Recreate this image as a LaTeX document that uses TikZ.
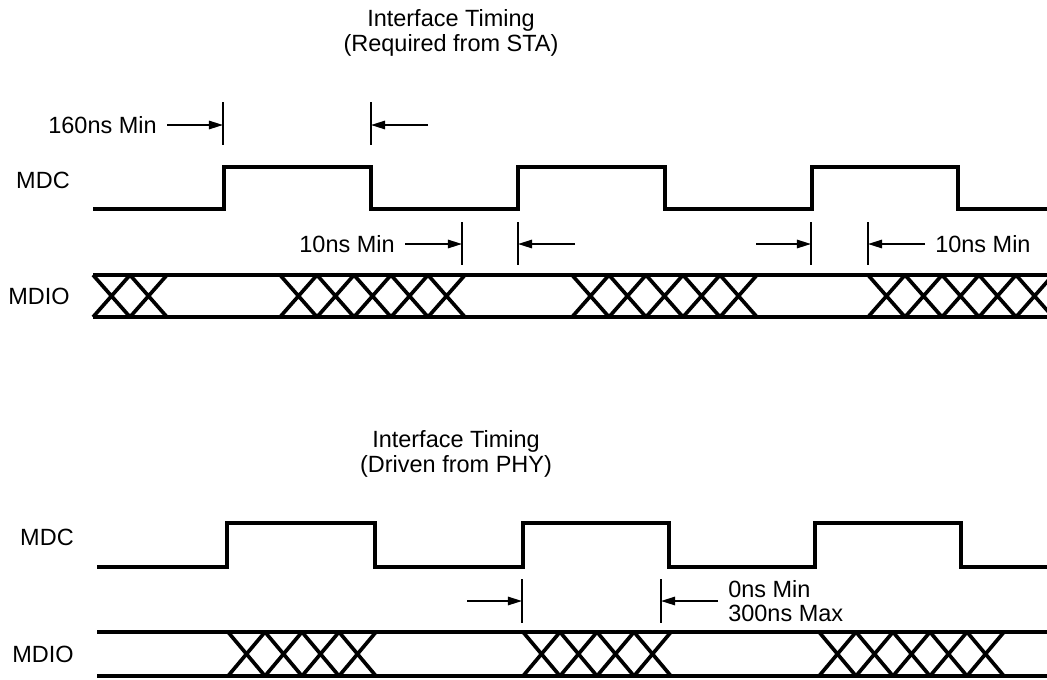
\documentclass[tikz,border=0pt]{standalone}
\usepackage{fontspec}
\setmainfont{Liberation Sans}
\usetikzlibrary{arrows.meta}

\tikzset{
  sig/.style={line width=2.8pt, line join=miter},
  xing/.style={line width=2.6pt},
  tick/.style={line width=1.1pt},
  dim/.style={line width=1.1pt, -{Triangle[length=10pt,width=6pt]}},
  lbl/.style={inner sep=0pt, font=\fontsize{16.7}{17.5}\selectfont},
  dimlbl/.style={lbl, inner xsep=0.25cm},
}

\begin{document}
\begin{tikzpicture}[x=0.025cm, y=-0.025cm]
    \useasboundingbox (0,0) rectangle (1047,679);
    \clip (0,0) rectangle (1047,679);

    % Titles
    \node[lbl, align=center] at (451,33) (title_sta) {Interface Timing\\(Required from STA)};
    \node[lbl, align=center] at (456,454) (title_phy) {Interface Timing\\(Driven from PHY)};

    % Signal names
    \node[lbl, anchor=east] at (70,180) (mdc_sta) {MDC};
    \node[lbl, anchor=east] at (70,296) (mdio_sta) {MDIO};
    \node[lbl, anchor=east] at (74,537) (mdc_phy) {MDC};
    \node[lbl, anchor=east] at (74,654) (mdio_phy) {MDIO};

    % Waveforms (STA)
    \draw[sig] (93,209) -- (224,209) -- (224,167) -- (371,167) -- (371,209) -- (518,209)
        -- (518,167) -- (665,167) -- (665,209) -- (812,209) -- (812,167) -- (958,167)
        -- (958,209) -- (1047,209);
    \draw[sig] (93,275) -- (1047,275);
    \draw[sig] (93,317) -- (1047,317);
    \foreach \x in {93,130, 280,317,354,391,428, 572,609,646,683,720, 868,905,942,979,1016}
        \draw[xing] (\x,275) -- ++(37,42) (\x,317) -- ++(37,-42);

    % Waveforms (PHY)
    \draw[sig] (97,567) -- (227,567) -- (227,523) -- (375,523) -- (375,567) -- (523,567)
        -- (523,523) -- (669,523) -- (669,567) -- (815,567) -- (815,523) -- (961,523)
        -- (961,567) -- (1047,567);
    \draw[sig] (97,632) -- (1047,632);
    \draw[sig] (97,676) -- (1047,676);
    \foreach \x in {228,265,302,339, 523,560,597,634, 819,856,893,930,967}
        \draw[xing] (\x,632) -- ++(37,44) (\x,676) -- ++(37,-44);

    % Ticks
    \coordinate (t1top) at (223,102); \coordinate (t1bot) at (223,145);
    \coordinate (t2top) at (371,102); \coordinate (t2bot) at (371,145);
    \coordinate (t3top) at (462,222); \coordinate (t3bot) at (462,265);
    \coordinate (t4top) at (518,222); \coordinate (t4bot) at (518,265);
    \coordinate (t5top) at (811,222); \coordinate (t5bot) at (811,265);
    \coordinate (t6top) at (868,222); \coordinate (t6bot) at (868,265);
    \coordinate (t7top) at (522,579); \coordinate (t7bot) at (522,623);
    \coordinate (t8top) at (661,579); \coordinate (t8bot) at (661,623);
    \foreach \t in {t1,t2,t3,t4,t5,t6,t7,t8}
        \draw[tick] (\t top) -- (\t bot);

    % Timing labels
    \node[dimlbl, anchor=east] at (167,125) (min160) {160ns Min};
    \node[dimlbl, anchor=east] at (405,244) (min10a) {10ns Min};
    \node[dimlbl, anchor=west] at (925,244) (min10b) {10ns Min};
    \node[dimlbl, anchor=west, align=left] at (718,601) (max300) {0ns Min\\300ns Max};
    \coordinate (a2) at (428,125);
    \coordinate (a4) at (575,244);
    \coordinate (a5) at (756,244);
    \coordinate (a7) at (467,601);

    % Arrows
    \draw[dim] (min160.east) -- (min160.east -| t1top);
    \draw[dim] (a2) -- (a2 -| t2top);
    \draw[dim] (min10a.east) -- (min10a.east -| t3top);
    \draw[dim] (a4) -- (a4 -| t4top);
    \draw[dim] (a5) -- (a5 -| t5top);
    \draw[dim] (min10b.west) -- (min10b.west -| t6top);
    \draw[dim] (a7) -- (a7 -| t7top);
    \draw[dim] (max300.west) -- (max300.west -| t8top);

\end{tikzpicture}
\end{document}
